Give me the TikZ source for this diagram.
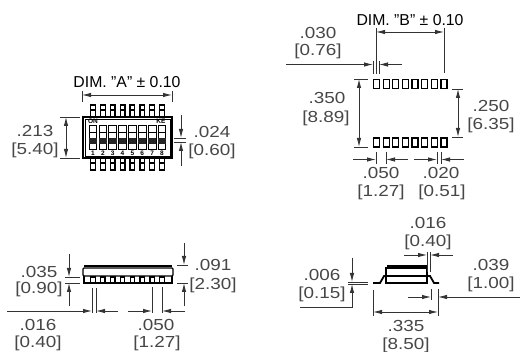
\documentclass[tikz,border=0pt]{standalone}
\usepackage{fontspec}
\setmainfont{Liberation Sans}
\newfontfamily\dimfont[FakeStretch=1.18]{Liberation Sans}
\usetikzlibrary{arrows.meta}
\tikzset{
  ln/.style={line width=0.8pt,draw=black!80},
  arr/.style={ln,-{Latex[length=9pt,width=4.4pt]}},
  barr/.style={ln,{Latex[length=9pt,width=4.4pt]}-{Latex[length=9pt,width=4.4pt]}},
  obj/.style={line width=1.2pt,draw=black},
  dimtxt/.style={inner sep=0pt,text=black!72,font=\dimfont\fontsize{16}{16}\selectfont},
  titletxt/.style={inner sep=0pt,font=\fontsize{15.8}{16}\selectfont},
  tiny/.style={inner sep=0pt,font=\bfseries\fontsize{6.5}{6.5}\selectfont},
}
\begin{document}
\begin{tikzpicture}[x=1pt,y=-1pt]
\useasboundingbox[fill=white] (0,0) rectangle (520,352);

% ---------- top-left: top view
\node[titletxt] (dimA) at (127,82) {DIM. "A" ± 0.10};
\draw[ln] (82,91)--(82,102) (172,91)--(172,102);
\draw[barr] (82,95)--(172,95);
\foreach \i in {0,...,7}{
  \pgfmathsetmacro\xc{93+9.85*\i}
  \draw[line width=1.3pt,fill=white] (\xc-2.3,105) rectangle (\xc+2.3,117);
  \draw[line width=1.1pt] (\xc-2.3,110)--(\xc+2.3,110);
  \draw[line width=1.3pt,fill=white] (\xc-2.3,158) rectangle (\xc+2.3,170);
  \draw[line width=1.1pt] (\xc-2.3,163)--(\xc+2.3,163);
}
\draw[line width=1.8pt,fill=white] (83,117) rectangle (172,158);
\draw[line width=0.5pt] (85,119) rectangle (170,156);
\foreach \i [count=\n] in {0,...,7}{
  \pgfmathsetmacro\xc{93+9.85*\i}
  \draw[line width=0.9pt,fill=white] (\xc-3.9,125.5) rectangle (\xc+3.9,149);
  \fill[black!85] (\xc-3.9,138) rectangle (\xc+3.9,144);
  \draw[line width=0.6pt] (\xc-3.9,132)--(\xc+3.9,132);
  \node[tiny] (num\n) at (\xc,153) {\n};
}
\node[tiny] (on) at (93,121.5) {ON};
\node[tiny] (ke) at (161,121.5) {KE};

\draw[ln] (60,117)--(80,117) (60,158)--(80,158);
\draw[barr] (66,117)--(66,158);
\node[dimtxt] (a1) at (35,131) {.213};
\node[dimtxt] (a2) at (35,150) {[5.40]};

\draw[ln] (174,138)--(186,138) (174,142)--(186,142);
\draw[arr] (181,115)--(181,138);
\draw[arr] (181,166)--(181,142);
\node[dimtxt] (b1) at (212,132) {.024};
\node[dimtxt] (b2) at (212,151) {[0.60]};

% ---------- top-right: land pattern
\node[titletxt] (dimB) at (410,20) {DIM. "B" ± 0.10};
\draw[ln] (376,28)--(376,74) (444,28)--(444,73);
\draw[barr] (376,32)--(444,32);
\draw[ln] (373,61)--(373,74) (379,61)--(379,74);
\draw[arr] (286,64.5)--(373,64.5);
\draw[arr] (402,64.5)--(379,64.5);
\node[dimtxt] (c1) at (318,33) {.030};
\node[dimtxt] (c2) at (318,51) {[0.76]};
\foreach \i in {0,...,7}{
  \pgfmathsetmacro\xc{376.5+9.65*\i}
  \draw[line width=1.3pt] (\xc-3,79.5) rectangle (\xc+3,88.5);
  \draw[line width=1.3pt] (\xc-3,138) rectangle (\xc+3,147);
}
\draw[ln] (354,79)--(368,79) (354,147)--(368,147);
\draw[barr] (359,79)--(359,147);
\node[dimtxt] (d1) at (327,98) {.350};
\node[dimtxt] (d2) at (326,118) {[8.89]};
\draw[ln] (452,89)--(463,89) (452,137)--(463,137);
\draw[barr] (458,89)--(458,137);
\node[dimtxt] (e1) at (491,106) {.250};
\node[dimtxt] (e2) at (491,125) {[6.35]};
\draw[ln] (376,152)--(376,164) (386,152)--(386,164);
\draw[arr] (353,159.5)--(376,159.5);
\draw[arr] (408,159.5)--(386,159.5);
\node[dimtxt] (f1) at (381,173) {.050};
\node[dimtxt] (f2) at (381,192) {[1.27]};
\draw[ln] (437,152)--(437,164) (441,152)--(441,164);
\draw[arr] (414,159.5)--(437,159.5);
\draw[arr] (464,159.5)--(441,159.5);
\node[dimtxt] (g1) at (441,173) {.020};
\node[dimtxt] (g2) at (442,192) {[0.51]};

% ---------- bottom-left: side view
\draw[line width=2pt] (84,266)--(172,266);
\draw[obj,rounded corners=1pt] (83,268) rectangle (173,276);
\draw[obj] (84,276)--(84,283)--(172,283)--(172,276);
\foreach \i in {0,...,7}{
  \pgfmathsetmacro\xc{93+9.85*\i}
  \draw[line width=1.2pt,fill=white] (\xc-2.2,277) rectangle (\xc+2.2,283);
}
\draw[line width=1pt] (88,283)--(168,283);
\draw[ln] (65,277)--(80,277) (65,283)--(80,283);
\draw[arr] (69,254)--(69,277);
\draw[arr] (69,306.5)--(69,283);
\node[dimtxt] (h1) at (39,272) {.035};
\node[dimtxt] (h2) at (39,289) {[0.90]};
\draw[ln] (177,265)--(188,265) (177,283)--(188,283);
\draw[arr] (184,243)--(184,265);
\draw[arr] (184,306)--(184,283);
\node[dimtxt] (i1) at (213,265) {.091};
\node[dimtxt] (i2) at (213,285) {[2.30]};
\draw[ln] (92,288)--(92,313) (96,288)--(96,313);
\draw[arr] (7,311)--(92,311);
\draw[arr] (118,311)--(96,311);
\node[dimtxt] (j1) at (38,325) {.016};
\node[dimtxt] (j2) at (38,343) {[0.40]};
\draw[ln] (152,287)--(152,313) (162,287)--(162,313);
\draw[arr] (128,311)--(152,311);
\draw[arr] (185,311)--(162,311);
\node[dimtxt] (k1) at (156,325) {.050};
\node[dimtxt] (k2) at (157,343) {[1.27]};

% ---------- bottom-right: end view
\draw[line width=2pt] (387,266)--(427,266);
\draw[obj] (386,276)--(386,268)--(427,268)--(427,276);
\draw[obj] (387,276)--(426,276);
\draw[obj] (386,276)--(386,283)--(427,283)--(427,276);
\draw[line width=1.8pt] (373,283)--(380,283)--(384,276)--(386,276);
\draw[line width=1.8pt] (427,276)--(430,276)--(434,283)--(439,283);
\draw[ln] (427,252)--(427,272) (430,252)--(430,272);
\draw[arr] (404,255)--(427,255);
\draw[arr] (453,255)--(430,255);
\node[dimtxt] (l1) at (428,223) {.016};
\node[dimtxt] (l2) at (428,242) {[0.40]};
\draw[ln] (348,282)--(368,282) (348,284)--(368,284);
\draw[arr] (352,258)--(352,282);
\draw[arr] (300,307)--(352,307)--(352,284);
\node[dimtxt] (m1) at (322,275) {.006};
\node[dimtxt] (m2) at (322,294) {[0.15]};
\draw[ln] (431,289)--(431,300) (438,289)--(438,300);
\draw[arr] (408,297)--(431,297);
\draw[arr] (520,297)--(438,297);
\node[dimtxt] (n1) at (491,265) {.039};
\node[dimtxt] (n2) at (491,284) {[1.00]};
\draw[ln] (373,290)--(373,316) (438,300)--(438,316);
\draw[barr] (373,312)--(438,312);
\node[dimtxt] (o1) at (406,326) {.335};
\node[dimtxt] (o2) at (406,345) {[8.50]};
\end{tikzpicture}
\end{document}
